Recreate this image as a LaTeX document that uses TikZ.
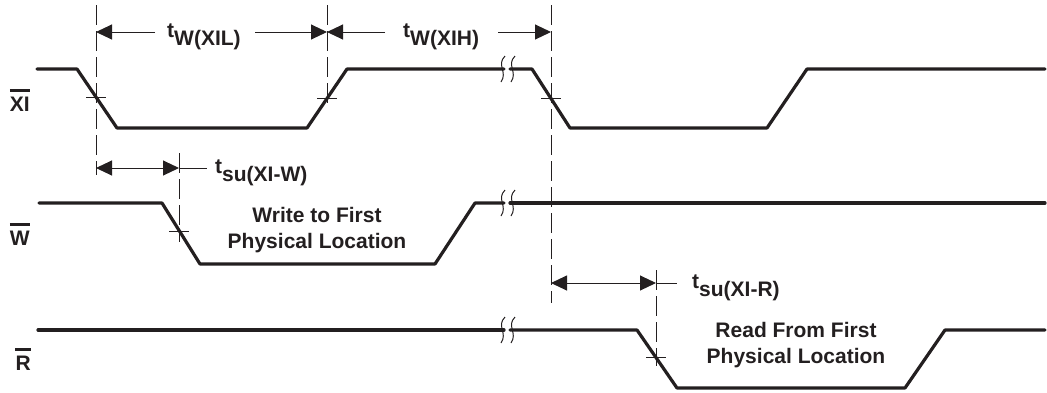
\documentclass[tikz,border=0pt]{standalone}
\usepackage{fontspec}
\setmainfont{Liberation Sans}
\usetikzlibrary{arrows.meta}
\definecolor{ink}{HTML}{231F20}
\begin{document}
\begin{tikzpicture}[x=1pt,y=-1pt,
  wave/.style={line width=3.2pt, line cap=round, line join=round, draw=ink},
  guide/.style={line width=1pt, dash pattern=on 20pt off 6pt, draw=ink},
  dim/.style={line width=1pt, draw=ink},
  tipr/.style={-{Triangle[length=16pt,width=15pt]}},
  tipb/.style={{Triangle[length=16pt,width=15pt]}-{Triangle[length=16pt,width=15pt]}},
  txt/.style={font=\fontsize{21}{26}\selectfont\bfseries, inner sep=0pt, text=ink},
  brk/.style={line width=1pt, draw=ink},
  bar/.style={line width=2.5pt, draw=ink}]
\useasboundingbox (0,0) rectangle (1047,392);

% signal labels
\node[txt, anchor=base east] (lxi) at (30,111) {XI};
\node[txt, anchor=base east] (lw) at (30,245) {W};
\node[txt, anchor=base east] (lr) at (31,370) {R};
\draw[bar] ([yshift=6pt]lxi.north west) -- ([yshift=6pt]lxi.north east);
\draw[bar] ([yshift=6pt]lw.north west) -- ([yshift=6pt]lw.north east);
\draw[bar] ([yshift=6pt]lr.north west) -- ([yshift=6pt]lr.north east);

% waveforms
\draw[wave] (37,69) -- (77,69) -- (117,128) -- (307,128) -- (347,69) -- (504,69);
\draw[wave] (510,69) -- (532,69) -- (570,128) -- (767,128) -- (807,69) -- (1045,69);
\draw[wave] (39,203) -- (162,203) -- (200,264) -- (435,264) -- (475,203) -- (504,203);
\draw[wave] (510,203) -- (1045,203);
\draw[wave] (38,330) -- (504,330);
\draw[wave] (510,330) -- (637,330) -- (677,388) -- (905,388) -- (945,330) -- (1045,330);

% break marks
\foreach \yy in {69,203,330}{
  \draw[brk] (505,\yy-13) .. controls (496,\yy-4) and (508,\yy+3) .. (501,\yy+13);
  \draw[brk] (515,\yy-13) .. controls (506,\yy-4) and (518,\yy+3) .. (511,\yy+13);
}

% guide lines
\draw[guide] (96,5) -- (96,175);
\draw[guide] (327,5) -- (327,107);
\draw[guide] (551,5) -- (551,303);
\draw[guide] (179,153) -- (179,242);
\draw[guide] (656,270) -- (656,366);

% crossing ticks
\draw[dim] (86,97) -- (106,97);
\draw[dim] (317,98) -- (337,98);
\draw[dim] (541,98) -- (561,98);
\draw[dim] (169,231) -- (189,231);
\draw[dim] (646,357) -- (666,357);

% timing texts
\node[txt, anchor=base west] (twxil) at (167,37) {t\raisebox{-8pt}{W(XIL)}};
\node[txt, anchor=base west] (twxih) at (403,37) {t\raisebox{-8pt}{W(XIH)}};
\node[txt, anchor=base west] (tsuw) at (215,173) {t\raisebox{-8pt}{su(XI-W)}};
\node[txt, anchor=base west] (tsur) at (692,288) {t\raisebox{-8pt}{su(XI-R)}};

% dimension coordinates
\coordinate (g1) at (96,32);
\coordinate (g2) at (327,32);
\coordinate (g3) at (551,32);
\coordinate (a1) at (155,32);
\coordinate (a2) at (255,32);
\coordinate (a3) at (385,32);
\coordinate (a4) at (498,32);
\draw[dim,tipr] (a1) -- (g1);
\draw[dim,tipr] (a2) -- (g2);
\draw[dim,tipr] (a3) -- (g2);
\draw[dim,tipr] (a4) -- (g3);

\coordinate (s1) at (96,168);
\coordinate (s2) at (179,168);
\coordinate (s3) at (207,168);
\draw[dim,tipb] (s1) -- (s2);
\draw[dim] (s2) -- (s3);

\coordinate (r1) at (551,283);
\coordinate (r2) at (656,283);
\coordinate (r3) at (677,283);
\draw[dim,tipb] (r1) -- (r2);
\draw[dim] (r2) -- (r3);

% region texts
\node[txt, anchor=north, align=center] (wtxt) at (317,207) {Write to First\\Physical Location};
\node[txt, anchor=north, align=center] (rtxt) at (796,322) {Read From First\\Physical Location};
\end{tikzpicture}
\end{document}
